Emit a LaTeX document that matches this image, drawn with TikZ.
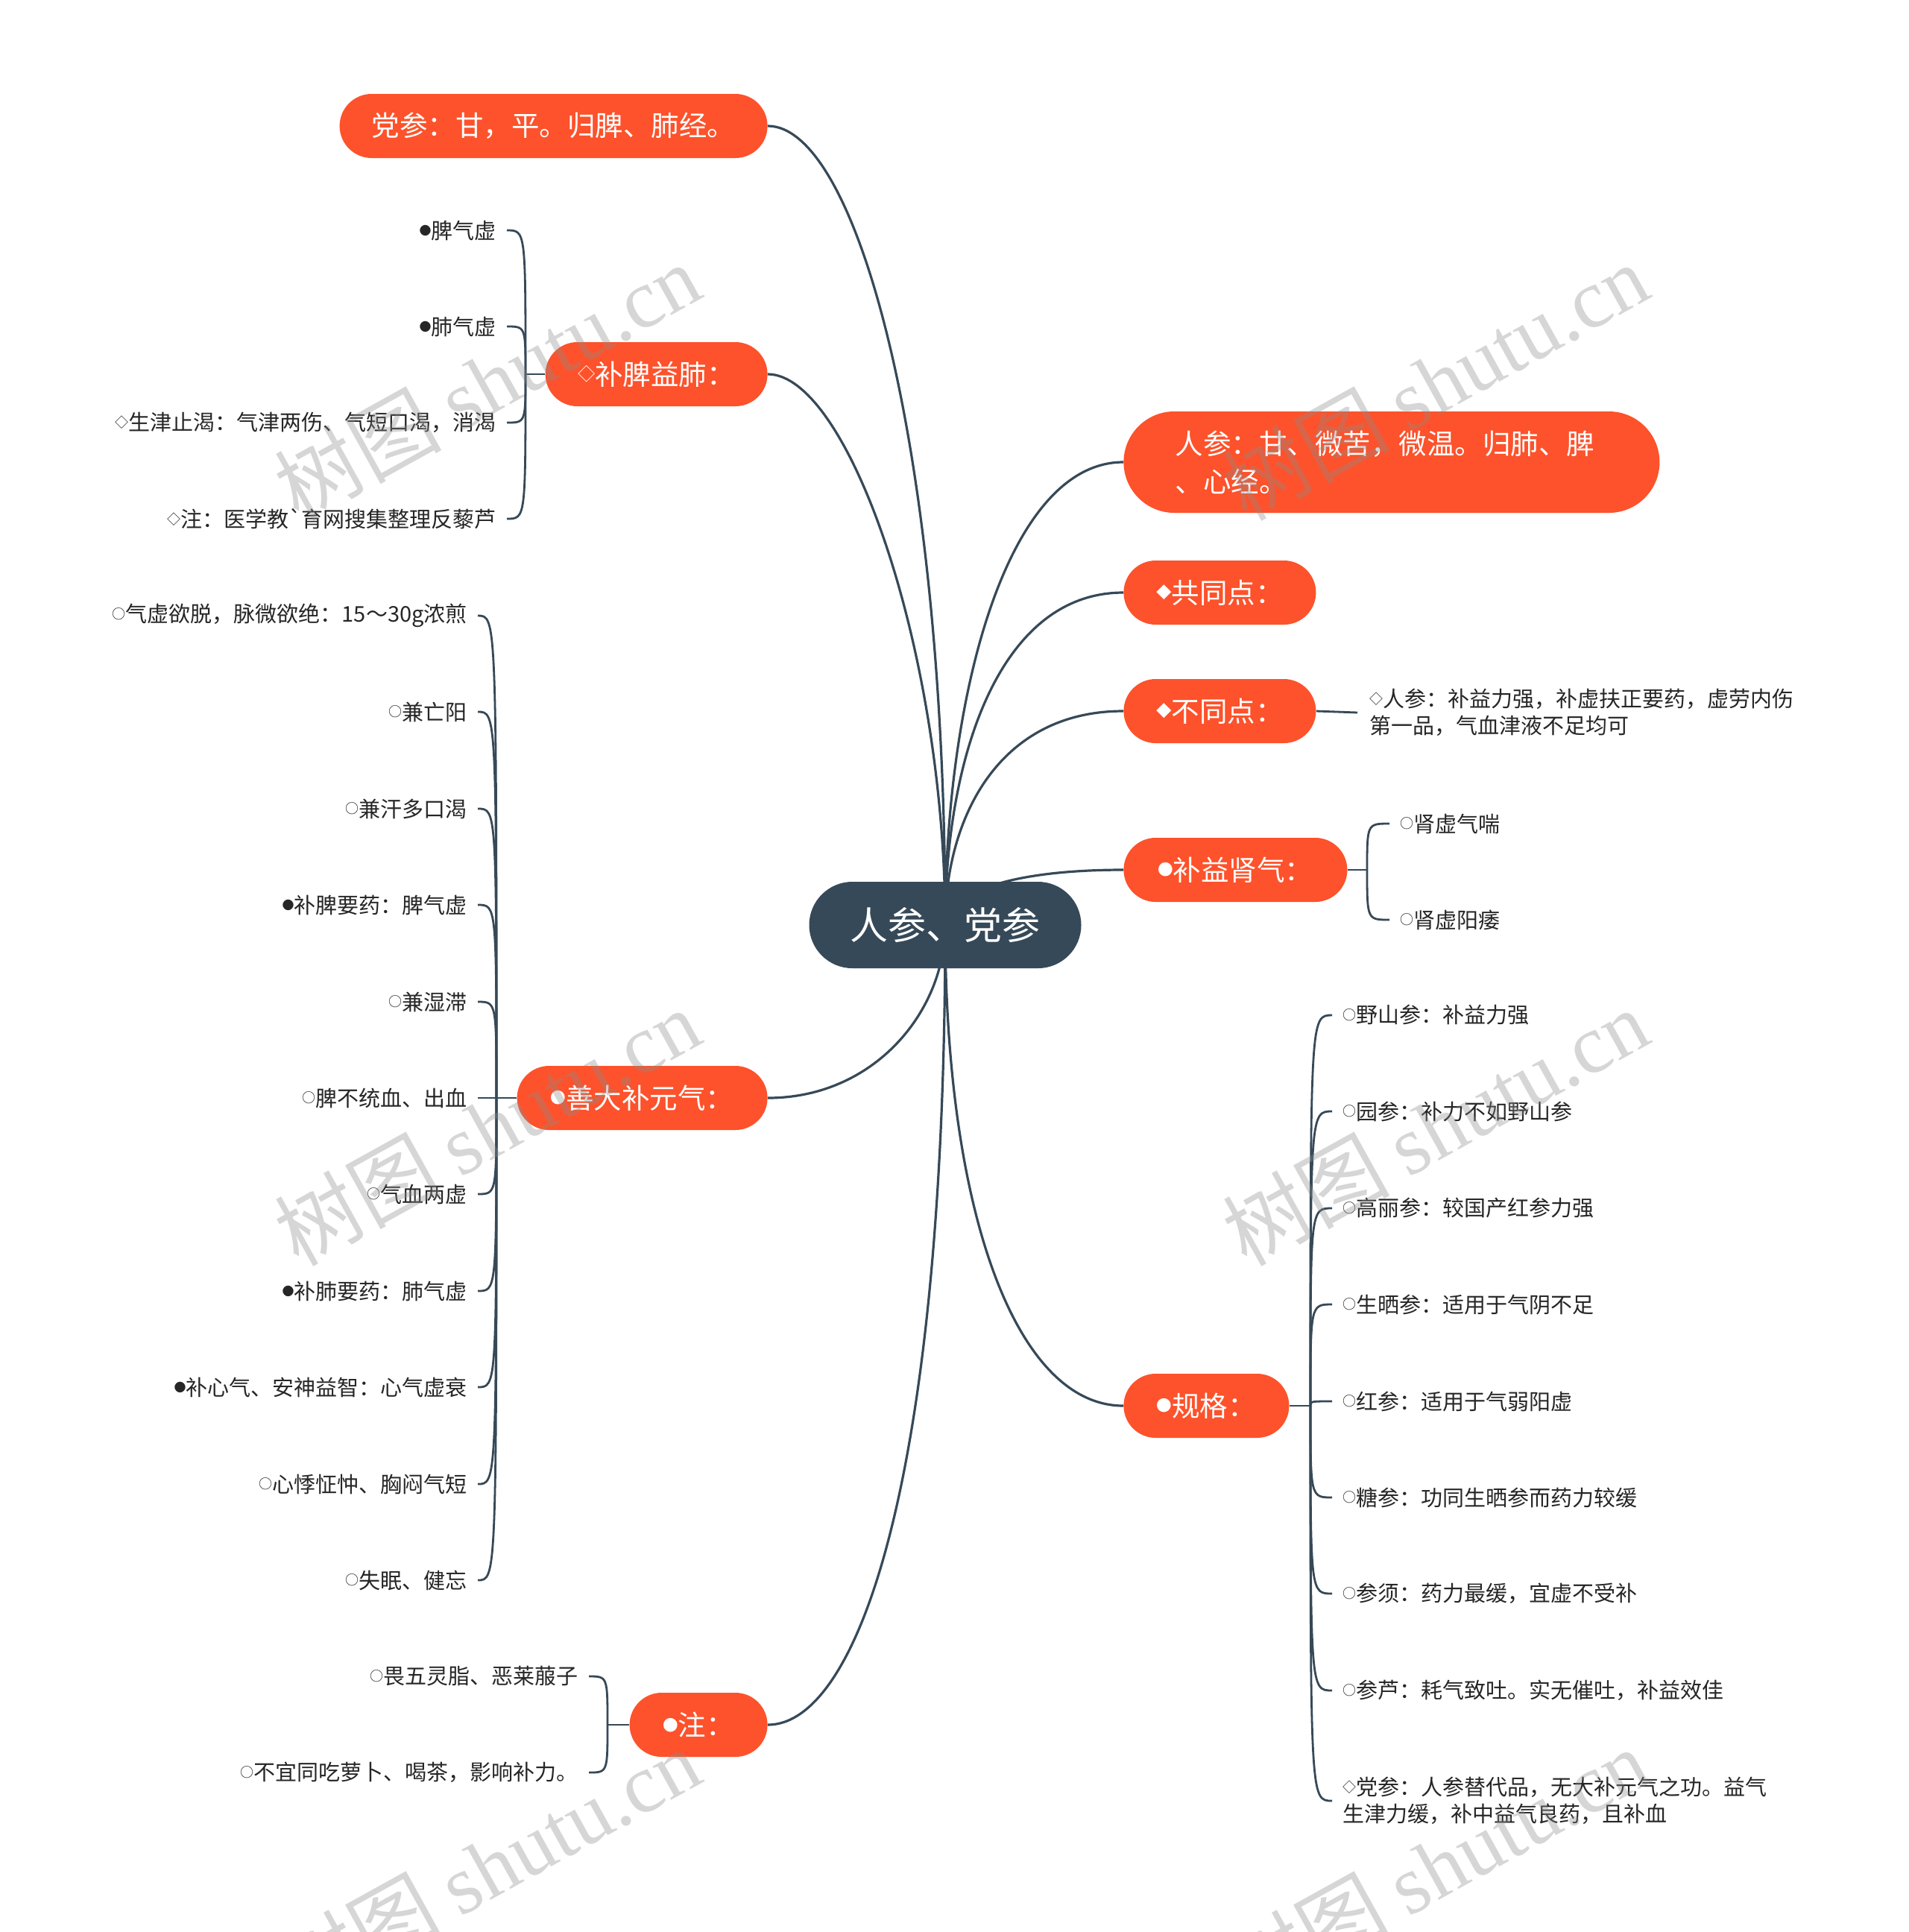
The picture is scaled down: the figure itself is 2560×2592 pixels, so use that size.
\documentclass[tikz,border=0pt]{standalone}
\usepackage{fontspec}
\usepackage{graphicx}
\setmainfont{Noto Sans CJK SC}
\newfontfamily\rawcjk{Noto Sans CJK SC}
\newfontfamily\markfont{Liberation Serif}
\usetikzlibrary{calc, backgrounds}

\definecolor{topicred}{HTML}{FD522B}
\definecolor{rootslate}{HTML}{364958}
\definecolor{leafink}{HTML}{262626}

% small list markers
\newcommand{\mkdot}{\raisebox{.17em}{\scalebox{.55}{●}}}
\newcommand{\mkring}{\raisebox{.15em}{\scalebox{.62}{○}}}
\newcommand{\mkdia}{\raisebox{.15em}{\scalebox{.62}{◇}}}
\newcommand{\mkdiafull}{\raisebox{.17em}{\scalebox{.55}{◆}}}

\begin{document}
\begin{tikzpicture}[x=0.5pt, y=-0.5pt,
    rootbox/.style={fill=rootslate, text=white, rounded corners=29pt,
        minimum width=182.5pt, minimum height=58pt, inner sep=0pt,
        font=\fontsize{25.5}{30}\selectfont},
    topic/.style={fill=topicred, text=white, rounded corners=21.5pt,
        minimum height=43pt, inner sep=0pt, font=\fontsize{18.75}{25.5}\selectfont},
    leaf/.style={text=leafink, inner ysep=0pt, inner xsep=7pt, align=left,
        font=\fontsize{14.5}{18}\selectfont},
    branch/.style={draw=rootslate, line width=1.6pt},
    twig/.style={draw=rootslate, line width=1.4pt},
    wmark/.style={rotate=29, text=black!45, opacity=0.35, inner sep=0pt,
        font=\fontsize{56}{60}\selectfont}
]

    % --- 1. PAGE ---
    \useasboundingbox (0,0) rectangle (2560,2592);
    \def\leftedge{1030}   % east side of the left topics
    \def\rightedge{1507}  % west side of the right topics

    % --- 2. CENTRAL TOPIC ---
    \node[rootbox] (root) at (1268,1241) {人参、党参};

    % --- 3. LEFT TOPICS ---
    \node[topic, anchor=east, minimum width=287pt] (dang) at (\leftedge,169) {党参：甘，平。归脾、肺经。};
    \node[topic, anchor=east, minimum width=149pt] (bupi) at (\leftedge,502) {\mkdia 补脾益肺：};
    \node[topic, anchor=east, minimum width=168pt] (shanda) at (\leftedge,1473) {\mkdot 善大补元气：};
    \node[topic, anchor=east, minimum width=92.5pt] (zhu) at (\leftedge,2314) {\mkdot 注：};

    % --- 4. RIGHT TOPICS ---
    \node[topic, anchor=west, minimum width=359.5pt, minimum height=68pt, rounded corners=34pt,
        text width=290pt, align=left] (renshen) at (\rightedge,620) {人参：甘、微苦，微温。归肺、脾\\、心经。};
    \node[topic, anchor=west, minimum width=129pt] (gong) at (\rightedge,795) {\mkdiafull 共同点：};
    \node[topic, anchor=west, minimum width=129pt] (butong) at (\rightedge,954) {\mkdiafull 不同点：};
    \node[topic, anchor=west, minimum width=150pt] (bushen) at (\rightedge,1167) {\mkdot 补益肾气：};
    \node[topic, anchor=west, minimum width=111pt] (guige) at (\rightedge,1886) {\mkdot 规格：};

    % --- 5. MAIN BRANCHES (behind the central topic) ---
    \begin{scope}[on background layer]
        \fill[white] (0,0) rectangle (2560,2592);
        \foreach \n/\a/\b in {dang/0.6/0.5, bupi/0.5/0.45, shanda/0.5/0.6, zhu/0.7/0.5}{
            \coordinate (k) at (root.center |- \n.east);
            \draw[branch] (root.center) .. controls ($(root.center)!\a!(k)$) and ($(\n.east)!\b!(k)$) .. (\n.east);
        }
        \foreach \n/\a/\b in {renshen/0.5/0.65, gong/0.5/0.7, butong/0.5/0.7, bushen/0.5/0.7, guige/0.6/0.6}{
            \coordinate (k) at (root.center |- \n.west);
            \draw[branch] (root.center) .. controls ($(root.center)!\a!(k)$) and ($(\n.west)!\b!(k)$) .. (\n.west);
        }
    \end{scope}

    % --- 6. 补脾益肺 LEAVES ---
    \coordinate (bupiJ) at (705,502);
    \draw[twig] (bupi.west) -- (bupiJ);
    \foreach \y/\txt [count=\i] in {309/{\mkdot 脾气虚}, 438/{\mkdot 肺气虚},
        567/{\mkdia 生津止渴：气津两伤、气短口渴，消渴}, 696/{\mkdia 注：医学教{\rawcjk`}育网搜集整理反藜芦}}{
        \node[leaf, anchor=east] (bupi\i) at (680,\y) {\txt};
        \draw[twig] (bupiJ) .. controls (bupiJ |- bupi\i.east) .. (bupi\i.east);
    }

    % --- 7. 善大补元气 LEAVES ---
    \coordinate (shandaJ) at (666,1473);
    \draw[twig] (shanda.west) -- (shandaJ);
    \foreach \y/\txt [count=\i] in {826/{\mkring 气虚欲脱，脉微欲绝：15～30g浓煎}, 955/{\mkring 兼亡阳},
        1085/{\mkring 兼汗多口渴}, 1214/{\mkdot 补脾要药：脾气虚}, 1344/{\mkring 兼湿滞},
        1473/{\mkring 脾不统血、出血}, 1602/{\mkring 气血两虚}, 1732/{\mkdot 补肺要药：肺气虚},
        1861/{\mkdot 补心气、安神益智：心气虚衰}, 1991/{\mkring 心悸怔忡、胸闷气短}, 2120/{\mkring 失眠、健忘}}{
        \node[leaf, anchor=east] (shanda\i) at (641,\y) {\txt};
        \draw[twig] (shandaJ) .. controls (shandaJ |- shanda\i.east) .. (shanda\i.east);
    }

    % --- 8. 注 LEAVES ---
    \coordinate (zhuJ) at (815,2314);
    \draw[twig] (zhu.west) -- (zhuJ);
    \foreach \y/\txt [count=\i] in {2249/{\mkring 畏五灵脂、恶莱菔子}, 2378/{\mkring 不宜同吃萝卜、喝茶，影响补力。}}{
        \node[leaf, anchor=east] (zhu\i) at (790,\y) {\txt};
        \draw[twig] (zhuJ) .. controls (zhuJ |- zhu\i.east) .. (zhu\i.east);
    }

    % --- 9. 不同点 LEAF ---
    \node[leaf, anchor=west, inner xsep=8pt] (butong1) at (1821,956)
        {\mkdia 人参：补益力强，补虚扶正要药，虚劳内伤\\第一品，气血津液不足均可};
    \draw[twig] (butong.east) -- (butong1.west);

    % --- 10. 补益肾气 LEAVES ---
    \coordinate (bushenJ) at (1834,1167);
    \draw[twig] (bushen.east) -- (bushenJ);
    \foreach \y/\txt [count=\i] in {1105/{\mkring 肾虚气喘}, 1234/{\mkring 肾虚阳痿}}{
        \node[leaf, anchor=west] (bushen\i) at (1864,\y) {\txt};
        \draw[twig] (bushenJ) .. controls (bushenJ |- bushen\i.west) .. (bushen\i.west);
    }

    % --- 11. 规格 LEAVES ---
    \coordinate (guigeJ) at (1758,1886);
    \draw[twig] (guige.east) -- (guigeJ);
    \foreach \y/\txt [count=\i] in {1362/{\mkring 野山参：补益力强}, 1491/{\mkring 园参：补力不如野山参},
        1621/{\mkring 高丽参：较国产红参力强}, 1750/{\mkring 生晒参：适用于气阴不足},
        1880/{\mkring 红参：适用于气弱阳虚}, 2009/{\mkring 糖参：功同生晒参而药力较缓},
        2138/{\mkring 参须：药力最缓，宜虚不受补}, 2268/{\mkring 参芦：耗气致吐。实无催吐，补益效佳},
        2416/{\mkdia 党参：人参替代品，无大补元气之功。益气\\生津力缓，补中益气良药，且补血}}{
        \node[leaf, anchor=west] (guige\i) at (1787,\y) {\txt};
        \draw[twig] (guigeJ) .. controls (guigeJ |- guige\i.west) .. (guige\i.west);
    }

    % --- 12. WATERMARKS ---
    \foreach \wx in {653,1925}{
        \foreach \wy in {512,1512,2504}{
            \node[wmark] (wm\wx\wy) at (\wx,\wy) {树图 {\markfont shutu.cn}};
        }
    }

\end{tikzpicture}
\end{document}
